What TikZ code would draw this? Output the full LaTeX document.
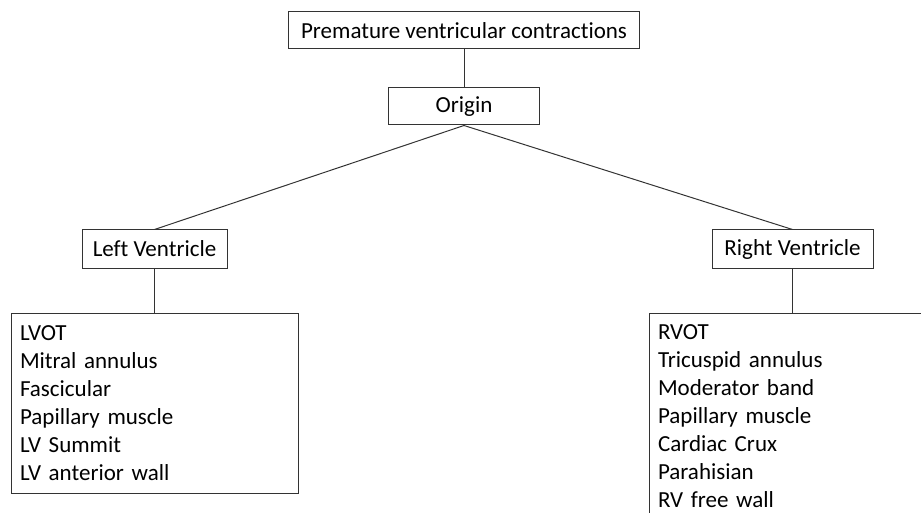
\documentclass[tikz,border=0pt]{standalone}
\usepackage{fontspec}
\setmainfont{Carlito}[Ligatures=NoCommon]
\usetikzlibrary{positioning,calc}
\tikzset{>=latex}

\begin{document}
\begin{tikzpicture}[x=1pt,y=-1pt,line width=1pt,
    font=\fontsize{23}{28}\selectfont,
    every node/.style={draw=black!80}]

    \def\xLeft{154.5}
    \def\xCentre{464}
    \def\xRight{792.5}
    \def\xRightList{809}
    \def\yTitle{30.5}
    \def\yOrigin{106.5}
    \def\yVentricle{249}
    \def\yLeftList{403}
    \def\yRightList{416.5}

    \def\heightBox{37pt}
    \def\widthListLeft{269pt}
    \def\widthListRight{302pt}

    \useasboundingbox (0,0) rectangle (921,513);
    \clip (0,0) rectangle (921,513);

    \node
        [minimum width=351pt,minimum height=\heightBox,align=center]
        at (\xCentre,\yTitle)
        (pvc) {Premature ventricular contractions};
    \node
        [minimum width=151pt,minimum height=\heightBox,align=center]
        at (\xCentre,\yOrigin)
        (origin) {Origin};
    \node
        [minimum width=145pt,minimum height=38pt,align=center]
        at (\xLeft,\yVentricle)
        (lv) {Left Ventricle};
    \node
        [minimum width=161pt,minimum height=38pt,align=center]
        at (\xRight,\yVentricle)
        (rv) {Right Ventricle};
    \node
        [text width=\widthListLeft,inner xsep=9pt,minimum height=180pt,align=left]
        at (\xLeft,\yLeftList)
        (lvlist) {LVOT\\Mitral annulus\\Fascicular\\Papillary muscle\\LV Summit\\LV anterior wall};
    \node
        [text width=\widthListRight,inner xsep=9pt,minimum height=207pt,align=left]
        at (\xRightList,\yRightList)
        (rvlist) {RVOT\\Tricuspid annulus\\Moderator band\\Papillary muscle\\Cardiac Crux\\Parahisian\\RV free wall};

    \draw[-,black!80] (pvc.south) -- (origin.north);
    \draw[-,black!80] (origin.south) -- (lv.north);
    \draw[-,black!80] (origin.south) -- (rv.north);
    \draw[-,black!80] (lv.south) -- (lvlist.north);
    \draw[-,black!80] (rv.south) -- (rv.south |- rvlist.north);

\end{tikzpicture}
\end{document}
